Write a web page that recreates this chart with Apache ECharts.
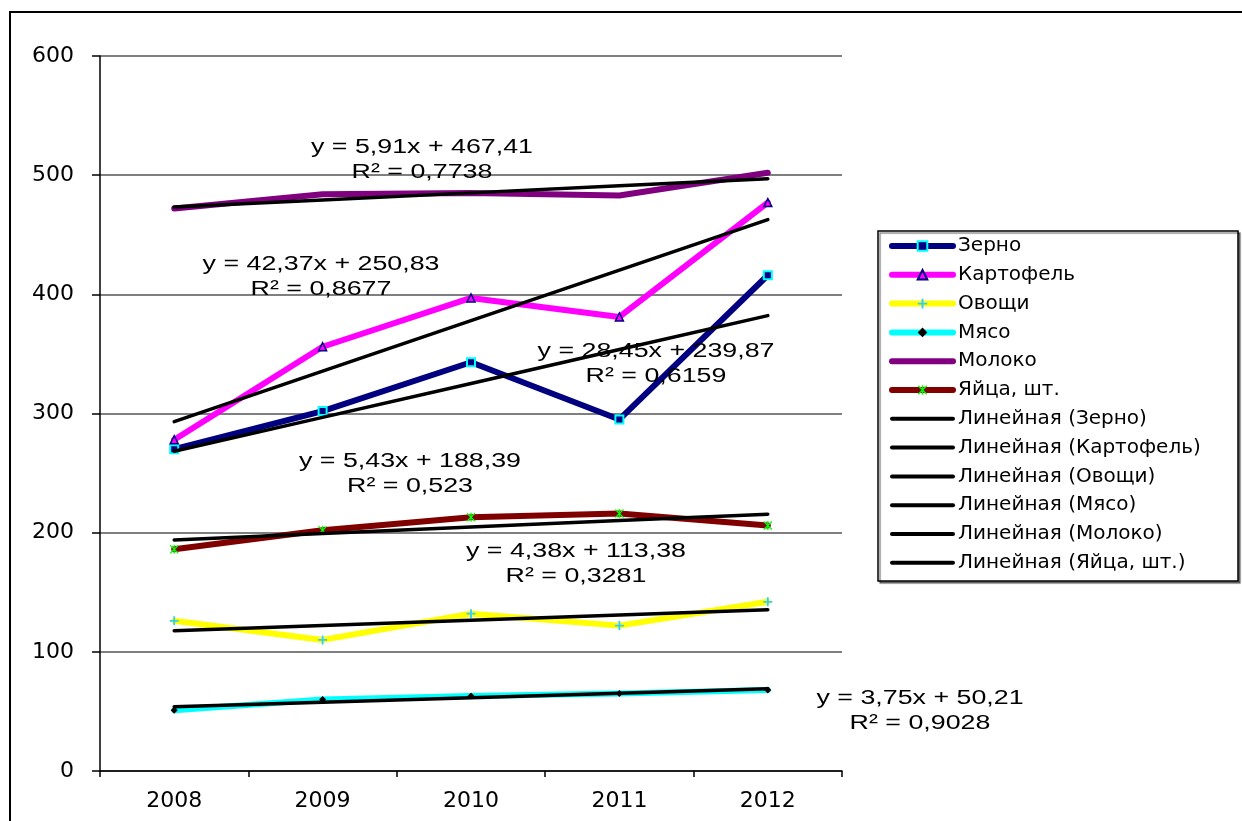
<!DOCTYPE html>
<html>
<head>
<meta charset="utf-8">
<script src="https://cdn.jsdelivr.net/npm/echarts@6/dist/echarts.min.js"></script>
<style>
  html, body { margin: 0; padding: 0; background: #fff; }
  #chart { width: 1242px; height: 821px; }
</style>
</head>
<body>
<div id="chart"></div>
<script>
// Years on the category axis
const years = ['2008', '2009', '2010', '2011', '2012'];

// Production by product
const grain = [270, 302, 343, 295, 416];
const potato = [278, 356, 397, 381, 477];
const vegetables = [126, 110, 132, 122, 142];
const meat = [51, 60, 63, 65, 68];
const milk = [472, 484, 485, 483, 502];
const eggs = [186, 202, 213, 216, 206];

const seriesNames = ['Зерно', 'Картофель', 'Овощи', 'Мясо', 'Молоко', 'Яйца, шт.'];

// Linear trend coefficients (y = slope·x + intercept, x = 1..5) and R²
const trendSlope = [28.45, 42.37, 4.38, 3.75, 5.91, 5.43];
const trendIntercept = [239.87, 250.83, 113.38, 50.21, 467.41, 188.39];
const trendR2 = ['0,6159', '0,8677', '0,3281', '0,9028', '0,7738', '0,523'];

// Value axis ticks
const yMin = 0, yMax = 600, yStep = 100;

const values = [grain, potato, vegetables, meat, milk, eggs];
const lineColors = ['#000080', '#FF00FF', '#FFFF00', '#00FFFF', '#800080', '#800000'];
const markers = [
  { symbol: 'rect', size: 8, itemStyle: { color: '#000080', borderColor: '#00FFFF', borderWidth: 2 } },
  { symbol: 'triangle', size: 8, itemStyle: { color: '#FF00FF', borderColor: '#000080', borderWidth: 1.5 } },
  { symbol: 'path://M4,0H6V4H10V6H6V10H4V6H0V4H4Z', size: 9, itemStyle: { color: '#33CCFF' } },
  { symbol: 'diamond', size: 7, itemStyle: { color: '#000000' } },
  { symbol: 'none', size: 0, itemStyle: { color: '#800080' } },
  { symbol: 'path://M0,1L1,0L5,4L9,0L10,1L6,5L10,9L9,10L5,6L1,10L0,9L4,5Z M4.3,0H5.7V10H4.3Z', size: 9, itemStyle: { color: '#00FF00' } }
];

// Equation label placement (pixel centre of each two-line block)
const labelPos = [[656, 364], [321, 277], [576, 564], [920, 711], [422, 160], [410, 474]];

const fmt = v => v.toFixed(2).replace('.', ',');

const dataSeries = seriesNames.map((name, i) => ({
  name: name,
  type: 'line',
  data: values[i],
  symbol: markers[i].symbol,
  symbolSize: markers[i].size,
  showSymbol: markers[i].symbol !== 'none',
  itemStyle: markers[i].itemStyle,
  lineStyle: { color: lineColors[i], width: 6, cap: 'round', join: 'round' },
  z: 2,
  emphasis: { disabled: true }
}));

const trendSeries = seriesNames.map((name, i) => ({
  name: 'Линейная (' + name + ')',
  type: 'line',
  data: years.map((_, k) => +(trendIntercept[i] + trendSlope[i] * (k + 1)).toFixed(3)),
  symbol: 'none',
  itemStyle: { color: '#000' },
  lineStyle: { color: '#000', width: 3.5, cap: 'round' },
  z: 3,
  emphasis: { disabled: true }
}));

// Legend entries: lines without a marker hide the default legend symbol
const hiddenSymbol = { color: 'rgba(0,0,0,0)', borderWidth: 0, opacity: 0 };
const legendData = dataSeries.map((s, i) => (
  markers[i].symbol === 'none' ? { name: s.name, itemStyle: hiddenSymbol } : { name: s.name }
)).concat(trendSeries.map(s => ({ name: s.name, itemStyle: hiddenSymbol, lineStyle: { width: 4 } })));

const labelElements = seriesNames.map((name, i) => ({
  type: 'text',
  x: labelPos[i][0],
  y: labelPos[i][1],
  scaleX: 1.34,
  z: 10,
  style: {
    text: 'y = ' + fmt(trendSlope[i]) + 'x + ' + fmt(trendIntercept[i]) + '\nR² = ' + trendR2[i],
    font: '20px "Liberation Sans", Arial, sans-serif',
    fill: '#000',
    textAlign: 'center',
    textVerticalAlign: 'middle',
    align: 'center',
    verticalAlign: 'middle',
    lineHeight: 25
  }
}));

const chart = echarts.init(document.getElementById('chart'), null, { renderer: 'canvas' });

chart.setOption({
  animation: false,
  backgroundColor: '#fff',
  grid: { left: 100, right: 400, top: 56, bottom: 50, containLabel: false },
  xAxis: {
    type: 'category',
    data: years,
    boundaryGap: true,
    axisLine: { lineStyle: { color: '#000', width: 1.5 } },
    axisTick: { show: true, alignWithLabel: false, length: 6, lineStyle: { color: '#000', width: 1.5 } },
    axisLabel: { color: '#000', fontFamily: 'DejaVu Sans', fontSize: 22, margin: 19 },
    splitLine: { show: false }
  },
  yAxis: {
    type: 'value',
    min: yMin,
    max: yMax,
    interval: yStep,
    axisLine: { show: true, lineStyle: { color: '#000', width: 1.5 } },
    axisTick: { show: true, length: 8, lineStyle: { color: '#000', width: 1.5 } },
    axisLabel: { color: '#000', fontFamily: 'DejaVu Sans', fontSize: 22, margin: 26 },
    splitLine: { show: true, lineStyle: { color: '#555', width: 1.5 } }
  },
  legend: {
    orient: 'vertical',
    left: 889,
    top: 236,
    padding: 0,
    itemWidth: 61,
    itemHeight: 12,
    itemGap: 8.8,
    data: legendData,
    lineStyle: { width: 'inherit', cap: 'round' },
    textStyle: { color: '#000', fontFamily: 'DejaVu Sans', fontSize: 20, lineHeight: 20 },
    selectedMode: false
  },
  graphic: {
    elements: [
      {
        type: 'rect',
        z: -1,
        shape: { x: 10, y: 12, width: 1300, height: 900 },
        style: { fill: 'none', stroke: '#000', lineWidth: 2 }
      },
      {
        type: 'rect',
        z: 1,
        shape: { x: 878, y: 231, width: 360, height: 350 },
        style: {
          fill: '#fff', stroke: '#000', lineWidth: 1.5,
          shadowColor: 'rgba(0,0,0,0.45)', shadowOffsetX: 2, shadowOffsetY: 2, shadowBlur: 1
        }
      }
    ].concat(labelElements)
  },
  series: dataSeries.concat(trendSeries)
});
</script>
</body>
</html>
